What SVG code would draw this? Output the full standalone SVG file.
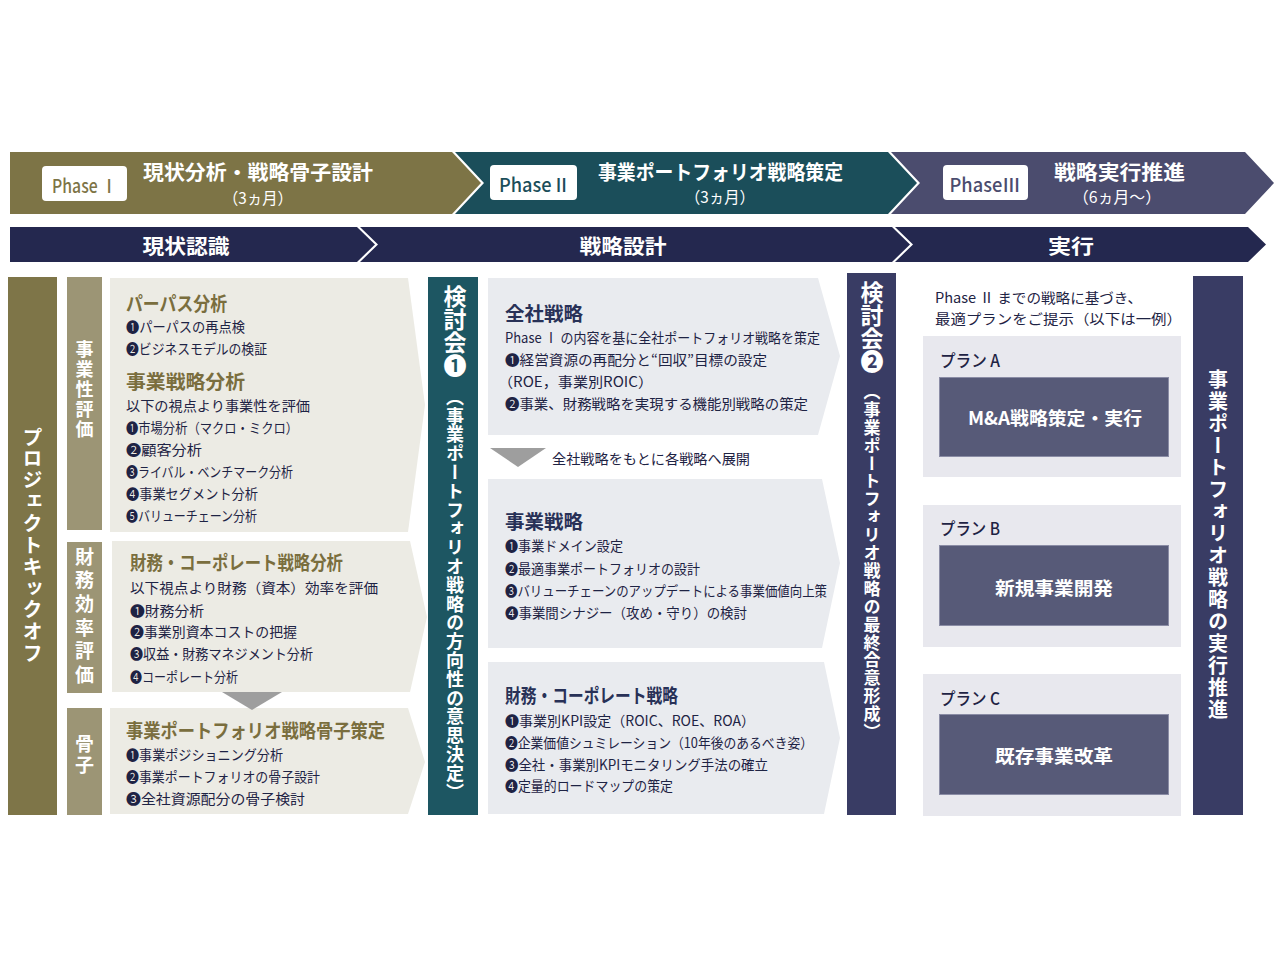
<svg xmlns="http://www.w3.org/2000/svg" width="1280" height="970" viewBox="0 0 1280 970">
<style>
text{font-family:"Noto Sans CJK JP","Noto Sans",sans-serif;}
.b{font-size:14px;fill:#1E2344;dominant-baseline:central}
.hl{font-size:19px;font-weight:700;fill:#7A6E3E;dominant-baseline:central}
.hm{font-size:19px;font-weight:700;fill:#283157;dominant-baseline:central}
.w{fill:#fff;font-weight:700;dominant-baseline:central}
.wr{fill:#fff;font-weight:400;font-size:16px;dominant-baseline:central;text-anchor:middle}
.ph{font-size:19px;font-weight:500;text-anchor:middle;dominant-baseline:central}
.v{writing-mode:vertical-rl;fill:#fff;font-weight:700}
.lp{fill:#ECEBE4}
.mp{fill:#E9EBEF}
.pb{fill:#E8E8EE}
.ib{fill:#575A78;stroke:#8A8CA5;stroke-width:1}
.pl{font-size:17px;font-weight:500;fill:#1E2344;dominant-baseline:central}
.tri{fill:#9E9E9E}
</style>
<rect width="1280" height="970" fill="#fff"/>

<g id="phase-row">
  <g id="phase1">
    <polygon points="10,152 452,152 481,183 452,214 10,214" fill="#7D7446"/>
    <rect x="42" y="166" width="85" height="35" rx="4" fill="#fff"/>
    <text class="ph" x="84.5" y="184" fill="#7D7446" textLength="65" lengthAdjust="spacingAndGlyphs">Phase Ⅰ</text>
    <text class="w" x="143" y="171" font-size="20" textLength="230" lengthAdjust="spacingAndGlyphs">現状分析・戦略骨子設計</text>
    <text class="wr" x="258" y="197" textLength="70" lengthAdjust="spacingAndGlyphs">（3ヵ月）</text>
  </g>
  <g id="phase2">
    <polygon points="455,152 888,152 917,183 888,214 455,214 484,183" fill="#1B4E5A"/>
    <rect x="490" y="165" width="87" height="35" rx="4" fill="#fff"/>
    <text class="ph" x="533" y="183" fill="#1B4E5A" textLength="68" lengthAdjust="spacingAndGlyphs">Phase II</text>
    <text class="w" x="598" y="171" font-size="20" textLength="245" lengthAdjust="spacingAndGlyphs">事業ポートフォリオ戦略策定</text>
    <text class="wr" x="720" y="196" textLength="70" lengthAdjust="spacingAndGlyphs">（3ヵ月）</text>
  </g>
  <g id="phase3">
    <polygon points="891,152 1245,152 1274,183 1245,214 891,214 920,183" fill="#4B4C6E"/>
    <rect x="943" y="165" width="85" height="35" rx="4" fill="#fff"/>
    <text class="ph" x="985" y="183" fill="#4B4C6E" textLength="71" lengthAdjust="spacingAndGlyphs">PhaseⅢ</text>
    <text class="w" x="1054" y="171" font-size="20" textLength="131" lengthAdjust="spacingAndGlyphs">戦略実行推進</text>
    <text class="wr" x="1117" y="196" textLength="88" lengthAdjust="spacingAndGlyphs">（6ヵ月～）</text>
  </g>
</g>

<g id="stage-row">
  <g id="stage1">
    <polygon points="10,227 357,227 375,244.5 357,262 10,262" fill="#24284F"/>
    <text class="w" x="186" y="245" font-size="20" text-anchor="middle" textLength="87" lengthAdjust="spacingAndGlyphs">現状認識</text>
  </g>
  <g id="stage2">
    <polygon points="360,227 892,227 910,244.5 892,262 360,262 378,244.5" fill="#24284F"/>
    <text class="w" x="623" y="245" font-size="20" text-anchor="middle" textLength="87" lengthAdjust="spacingAndGlyphs">戦略設計</text>
  </g>
  <g id="stage3">
    <polygon points="895,227 1248,227 1266,244.5 1248,262 895,262 913,244.5" fill="#24284F"/>
    <text class="w" x="1071" y="245" font-size="20" text-anchor="middle" textLength="46" lengthAdjust="spacingAndGlyphs">実行</text>
  </g>
</g>

<g id="kickoff">
  <rect x="8" y="277" width="49" height="538" fill="#7E7548"/>
  <text class="v" x="32.5" y="427" font-size="20" letter-spacing="1.6">プロジェクトキックオフ</text>
</g>

<g id="label-jigyousei">
  <rect x="67" y="277" width="35" height="253" fill="#9C9575"/>
  <text class="v" x="84.5" y="340" font-size="18" letter-spacing="2">事業性評価</text>
</g>
<g id="label-zaimu">
  <rect x="67" y="542" width="35" height="151" fill="#9C9575"/>
  <text class="v" x="84.5" y="547" font-size="19" letter-spacing="4.6">財務効率評価</text>
</g>
<g id="label-kosshi">
  <rect x="67" y="708" width="35" height="107" fill="#9C9575"/>
  <text class="v" x="84.5" y="734" font-size="19" letter-spacing="2">骨子</text>
</g>

<g id="panel-purpose">
  <polygon class="lp" points="110,278 408,278 425,405 408,532 110,532"/>
  <text class="hl" x="126" y="302" textLength="101" lengthAdjust="spacingAndGlyphs">パーパス分析</text>
  <text class="b" x="126" y="326" textLength="119" lengthAdjust="spacingAndGlyphs">❶パーパスの再点検</text>
  <text class="b" x="126" y="348" textLength="141" lengthAdjust="spacingAndGlyphs">❷ビジネスモデルの検証</text>
  <text class="hl" x="126" y="380" textLength="119" lengthAdjust="spacingAndGlyphs">事業戦略分析</text>
  <text class="b" x="126" y="405" textLength="184" lengthAdjust="spacingAndGlyphs">以下の視点より事業性を評価</text>
  <text class="b" x="126" y="427" textLength="172" lengthAdjust="spacingAndGlyphs">❶市場分析（マクロ・ミクロ）</text>
  <text class="b" x="126" y="449" textLength="76" lengthAdjust="spacingAndGlyphs">❷顧客分析</text>
  <text class="b" x="126" y="471" textLength="167" lengthAdjust="spacingAndGlyphs">❸ライバル・ベンチマーク分析</text>
  <text class="b" x="126" y="493" textLength="132" lengthAdjust="spacingAndGlyphs">❹事業セグメント分析</text>
  <text class="b" x="126" y="515" textLength="131" lengthAdjust="spacingAndGlyphs">❺バリューチェーン分析</text>
</g>

<g id="panel-finance">
  <polygon class="lp" points="112,541 410,541 427,617 410,692 112,692"/>
  <text class="hl" x="130" y="561" textLength="213" lengthAdjust="spacingAndGlyphs">財務・コーポレート戦略分析</text>
  <text class="b" x="130" y="587" textLength="248" lengthAdjust="spacingAndGlyphs">以下視点より財務（資本）効率を評価</text>
  <text class="b" x="130" y="610" textLength="74" lengthAdjust="spacingAndGlyphs">❶財務分析</text>
  <text class="b" x="130" y="631" textLength="167" lengthAdjust="spacingAndGlyphs">❷事業別資本コストの把握</text>
  <text class="b" x="130" y="653" textLength="183" lengthAdjust="spacingAndGlyphs">❸収益・財務マネジメント分析</text>
  <text class="b" x="130" y="676" textLength="108" lengthAdjust="spacingAndGlyphs">❹コーポレート分析</text>
</g>

<g id="panel-skeleton">
  <polygon class="lp" points="110,708 408,708 425,762 408,814 110,814"/>
  <text class="hl" x="126" y="729" textLength="259" lengthAdjust="spacingAndGlyphs">事業ポートフォリオ戦略骨子策定</text>
  <text class="b" x="126" y="754" textLength="157" lengthAdjust="spacingAndGlyphs">❶事業ポジショニング分析</text>
  <text class="b" x="126" y="776" textLength="194" lengthAdjust="spacingAndGlyphs">❷事業ポートフォリオの骨子設計</text>
  <text class="b" x="126" y="798" textLength="179" lengthAdjust="spacingAndGlyphs">❸全社資源配分の骨子検討</text>
</g>

<g id="review1">
  <rect x="428" y="277" width="50" height="538" fill="#1D5662"/>
  <text class="v" x="455" y="285" font-size="23">検討会❶</text>
  <text class="v" x="455" y="388" font-size="18" letter-spacing="0.8">（事業ポートフォリオ戦略の方向性の意思決定）</text>
</g>

<g id="panel-corporate">
  <polygon class="mp" points="488,278 818,278 840,356 818,435 488,435"/>
  <text class="hm" x="505" y="312" textLength="78" lengthAdjust="spacingAndGlyphs">全社戦略</text>
  <text class="b" x="505" y="337" textLength="315" lengthAdjust="spacingAndGlyphs">Phase Ⅰ の内容を基に全社ポートフォリオ戦略を策定</text>
  <text class="b" x="505" y="359" textLength="262" lengthAdjust="spacingAndGlyphs">❶経営資源の再配分と“回収”目標の設定</text>
  <text class="b" x="498" y="381" textLength="155" lengthAdjust="spacingAndGlyphs">（ROE，事業別ROIC）</text>
  <text class="b" x="505" y="403" textLength="303" lengthAdjust="spacingAndGlyphs">❷事業、財務戦略を実現する機能別戦略の策定</text>
</g>

<g id="deploy-note">
  <polygon class="tri" points="490,448 546,448 518,467"/>
  <text class="b" x="552" y="458" textLength="198" lengthAdjust="spacingAndGlyphs">全社戦略をもとに各戦略へ展開</text>
</g>

<g id="panel-business">
  <polygon class="mp" points="488,479 822,479 840,563 822,648 488,648"/>
  <text class="hm" x="505" y="520" textLength="78" lengthAdjust="spacingAndGlyphs">事業戦略</text>
  <text class="b" x="505" y="545" textLength="118" lengthAdjust="spacingAndGlyphs">❶事業ドメイン設定</text>
  <text class="b" x="505" y="568" textLength="195" lengthAdjust="spacingAndGlyphs">❷最適事業ポートフォリオの設計</text>
  <text class="b" x="505" y="590" textLength="322" lengthAdjust="spacingAndGlyphs">❸バリューチェーンのアップデートによる事業価値向上策</text>
  <text class="b" x="505" y="612" textLength="242" lengthAdjust="spacingAndGlyphs">❹事業間シナジー（攻め・守り）の検討</text>
</g>

<g id="panel-fincorp">
  <polygon class="mp" points="488,662 824,662 840,738 824,814 488,814"/>
  <text class="hm" x="505" y="694" textLength="173" lengthAdjust="spacingAndGlyphs">財務・コーポレート戦略</text>
  <text class="b" x="505" y="720" textLength="250" lengthAdjust="spacingAndGlyphs">❶事業別KPI設定（ROIC、ROE、ROA）</text>
  <text class="b" x="505" y="742" textLength="308" lengthAdjust="spacingAndGlyphs">❷企業価値シュミレーション（10年後のあるべき姿）</text>
  <text class="b" x="505" y="764" textLength="263" lengthAdjust="spacingAndGlyphs">❸全社・事業別KPIモニタリング手法の確立</text>
  <text class="b" x="505" y="785" textLength="168" lengthAdjust="spacingAndGlyphs">❹定量的ロードマップの策定</text>
</g>

<g id="review2">
  <rect x="847" y="273" width="49" height="542" fill="#393C64"/>
  <text class="v" x="872" y="281" font-size="23">検討会❷</text>
  <text class="v" x="872" y="383" font-size="17" letter-spacing="0.9">（事業ポートフォリオ戦略の最終合意形成）</text>
</g>

<g id="plan-intro">
  <text class="b" x="935" y="297" font-size="15" textLength="207" lengthAdjust="spacingAndGlyphs">Phase Ⅱ までの戦略に基づき、</text>
  <text class="b" x="935" y="318" font-size="15" textLength="247" lengthAdjust="spacingAndGlyphs">最適プランをご提示（以下は一例）</text>
</g>

<g id="plan-a">
  <rect class="pb" x="923" y="336" width="258" height="141"/>
  <text class="pl" x="940" y="359" textLength="60" lengthAdjust="spacingAndGlyphs">プラン A</text>
  <rect class="ib" x="939.5" y="377.5" width="229" height="79"/>
  <text class="w" x="1055" y="417" font-size="18" text-anchor="middle" textLength="174" lengthAdjust="spacingAndGlyphs">M&amp;A戦略策定・実行</text>
</g>
<g id="plan-b">
  <rect class="pb" x="923" y="505" width="258" height="142"/>
  <text class="pl" x="940" y="527" textLength="60" lengthAdjust="spacingAndGlyphs">プラン B</text>
  <rect class="ib" x="939.5" y="545.5" width="229" height="80"/>
  <text class="w" x="1054" y="587" font-size="18" text-anchor="middle" textLength="118" lengthAdjust="spacingAndGlyphs">新規事業開発</text>
</g>
<g id="plan-c">
  <rect class="pb" x="923" y="674" width="258" height="142"/>
  <text class="pl" x="940" y="697" textLength="60" lengthAdjust="spacingAndGlyphs">プラン C</text>
  <rect class="ib" x="939.5" y="714.5" width="229" height="80"/>
  <text class="w" x="1054" y="755" font-size="18" text-anchor="middle" textLength="118" lengthAdjust="spacingAndGlyphs">既存事業改革</text>
</g>

<g id="execution">
  <rect x="1193" y="276" width="50" height="539" fill="#393C64"/>
  <text class="v" x="1218" y="369" font-size="20" letter-spacing="2">事業ポートフォリオ戦略の実行推進</text>
</g>

<g id="connectors">
  <polygon class="tri" points="222,692 282,692 252,710"/>
</g>
</svg>
